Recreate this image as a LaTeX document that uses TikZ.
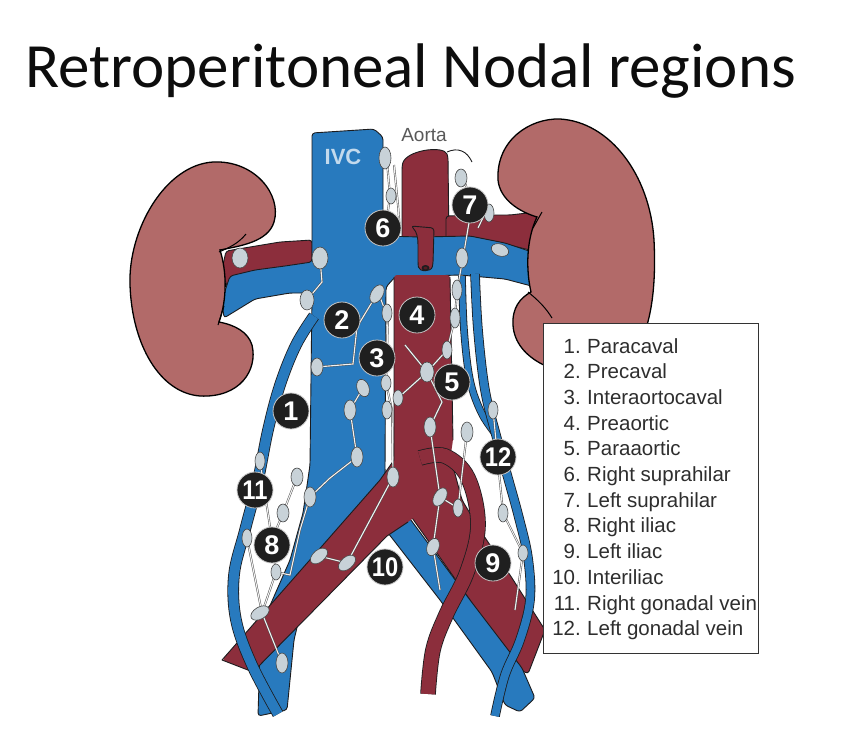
\documentclass[tikz,border=0pt]{standalone}
\usepackage{fontspec}
\setmainfont{Carlito}
\newfontfamily\arialf{Liberation Sans}
\usetikzlibrary{shapes.geometric}
\definecolor{vein}{RGB}{40,122,190}
\definecolor{art}{RGB}{140,46,60}
\definecolor{kid}{RGB}{178,106,105}
\definecolor{lnode}{RGB}{200,210,216}
\definecolor{outl}{RGB}{28,28,30}
\tikzset{
  bluev/.style={fill=vein, draw=outl, line width=0.9pt, line join=round, rounded corners=3pt},
  redv/.style={fill=art, draw=outl, line width=0.9pt, line join=round, rounded corners=3pt},
  kidneyshape/.style={fill=kid, draw=black, line width=1.3pt},
  lymphn/.style={fill=lnode, draw=gray!55!black, line width=0.6pt},
  chan/.style={draw=gray!60!black, double=gray!10, double distance=1.1pt, line width=0.45pt},
  tubeblue/.style={draw=outl, line width=0.8pt, double=vein, line cap=butt},
  tubered/.style={draw=outl, line width=0.8pt, double=art, double distance=14pt},
  numc/.style={circle, fill=black!88, draw=gray!45, line width=0.8pt, minimum size=36pt, inner sep=0pt, text=white, font=\arialf\bfseries\fontsize{27}{27}\selectfont},
  legnum/.style={anchor=base east, inner sep=0pt, font=\arialf\fontsize{20.5}{20.5}\selectfont, text=black!82},
  legtxt/.style={anchor=base west, inner sep=0pt, font=\arialf\fontsize{20.5}{20.5}\selectfont, text=black!82},
}
\begin{document}
\begin{tikzpicture}[x=1pt,y=-1pt]
\useasboundingbox (0,0) rectangle (852,729);
\fill[white] (0,0) rectangle (852,729);

% title
\node[anchor=base west, inner sep=0pt, font=\fontsize{63}{63}\selectfont, text=black!95] (title) at (25,87) {Retroperitoneal Nodal regions};

% ---- renal arteries and upper aorta (behind veins)
\path[redv] (312,240) -- (280,242) -- (250,247) -- (226,251) -- (222,270) -- (230,296) -- (250,276) -- (312,268) -- cycle;
\path[redv] (402,245) -- (402,167) .. controls (405,150) and (444,145) .. (448,157) -- (449,245) -- cycle;
\path[redv] (446,216) -- (480,215) -- (510,215) -- (536,212) -- (538,252) -- (505,244) -- (446,244) -- cycle;
\draw[outl, line width=0.9pt] (447,152) .. controls (458,147) and (467,151) .. (472,162);

% ---- IVC, renal veins, right iliac vein
\path[bluev] (312,133) -- (374,129) -- (383,137) -- (383,236) -- (420,237) -- (470,236) -- (505,243)
  -- (538,254) -- (539,288) -- (505,279) -- (460,275) -- (395,277) -- (386,287) -- (385,470)
  -- (388,520) -- (360,560) -- (300,615) -- (294,640) -- (287,710) -- (258,716) -- (260,650)
  -- (265,617) -- (290,560) -- (303,513) -- (310,465) -- (312,293) -- (290,293) -- (255,299)
  -- (224,318) -- (222,300) -- (230,276) -- (255,270) -- (285,266) -- (312,262) -- cycle;
\node[font=\arialf\bfseries\fontsize{22}{22}\selectfont, text=vein!28!white, inner sep=0pt] (ivclbl) at (343,157) {IVC};

% SMA stub in front of the left renal vein
\path[redv] (411,226) .. controls (417,232) and (418,238) .. (418,248) -- (418,264)
  .. controls (419,272) and (431,272) .. (433,264) -- (434,228) -- cycle;
\fill[outl] (425.5,268) ellipse [x radius=4pt, y radius=3pt];
\fill[art!60!black] (425.5,268) ellipse [x radius=2pt, y radius=1.4pt];

% ---- left iliac artery, left iliac vein
\path[redv] (420,465) -- (450,455) -- (462,500) -- (480,530) -- (512,578) -- (545,630) -- (528,674)
  -- (505,660) -- (470,600) -- (410,515) -- cycle;
\path[bluev] (378,520) -- (405,512) -- (470,600) -- (522,668) -- (535,698) -- (520,712) -- (505,705)
  -- (492,672) -- (440,600) -- cycle;

% ---- lower aorta and right iliac artery (in front)
\fill[art, rounded corners=3pt] (394,275) -- (450,275) -- (453,440) -- (447,480) -- (430,505) -- (408,522)
  -- (387,536) -- (253,672) -- (222,660) -- (380,480) -- (394,460) -- cycle;
\draw[outl, line width=0.9pt, line join=round] (394,277) -- (394,460) -- (380,480) -- (222,660) -- (253,672)
  -- (387,536) -- (408,522);
\draw[outl, line width=0.9pt] (450,277) -- (453,440);

% ---- gonadal veins
\draw[tubeblue, double distance=10pt] plot[smooth, tension=0.6] coordinates {(314,316) (296,345) (280,385) (268,430) (258,480) (245,530) (234,575) (236,620) (252,665) (278,714)};
\draw[tubeblue, double distance=6pt] plot[smooth, tension=0.6] coordinates {(462,276) (464,330) (470,380) (481,412) (494,432)};
\draw[tubeblue, double distance=8pt] plot[smooth, tension=0.6] coordinates {(475,274) (478,330) (485,390) (496,435) (508,478) (519,518) (528,558) (530,600) (520,640) (505,675) (495,716)};

% ---- inferior mesenteric artery
\draw[tubered] plot[smooth, tension=0.6] coordinates {(420,458) (445,456) (468,478) (478,525) (467,572) (446,615) (433,650) (428,694)};

% ---- lymphatic channels
\draw[chan] (386,150) -- (390,196) -- (384,240);
\draw[chan] (394,165) -- (398,205) -- (400,232);
\draw[chan] (378,292) -- (388,318) -- (386,383) -- (392,410) -- (393,477);
\draw[chan] (461,170) -- (472,205) -- (463,258) -- (457,290) -- (455,318) -- (447,350) -- (427,372);
\draw[chan] (489,205) -- (478,228);
\draw[chan] (427,372) -- (398,398);
\draw[chan] (427,372) -- (405,345);
\draw[chan] (427,372) -- (442,402) -- (430,427) -- (440,497) -- (433,547) -- (440,590);
\draw[chan] (320,258) -- (322,282) -- (307,300);
\draw[chan] (317,367) -- (353,364) -- (357,327) -- (377,294);
\draw[chan] (363,388) -- (350,410) -- (357,457) -- (330,478) -- (310,497);
\draw[chan] (297,477) -- (283,513) -- (272,540) -- (276,572) -- (262,613) -- (282,663);
\draw[chan] (310,497) -- (300,530) -- (290,575) -- (276,572);
\draw[chan] (319,556) -- (347,563) -- (393,477);
\draw[chan] (467,432) -- (458,508) -- (440,497);
\draw[chan] (493,410) -- (503,513) -- (523,553) -- (515,610);
\draw[chan] (247,538) -- (262,613);
\draw[chan] (260,461) -- (272,540);

% ---- lymph nodes
\foreach \x/\y/\a/\b/\r in {
 385/158/6/11/0, 391/196/5/8/0, 461/178/6/9/0, 489/213/5/9/0, 320/258/8/11/0, 240/258/8/10/0,
 307/300/7/10/0, 377/294/6/10/-30, 387/313/5/9/0, 462/258/6/10/0, 500/250/9/6/-20, 457/290/5/10/0,
 455/318/5/10/0, 427/372/7/10/0, 317/367/6/9/0, 447/350/5/9/0, 363/388/6/9/20, 386/383/5/8/0,
 398/398/5/8/0, 350/410/6/10/0, 357/457/6/10/0, 310/497/6/10/0, 297/477/6/9/0, 283/513/6/9/0,
 260/461/5/9/0, 247/538/5/9/0, 393/477/6/10/0, 387/410/5/9/0, 430/427/6/10/0, 467/432/6/10/0,
 440/497/6/10/-30, 458/508/5/9/0, 433/547/6/9/-20, 319/556/6/10/-50, 347/563/6/10/-50,
 260/613/6/10/-60, 282/663/6/10/0, 493/410/5/9/0, 503/513/5/9/0, 523/553/5/8/0, 276/572/5/8/0}
  {\draw[lymphn, rotate around={\r:(\x,\y)}] (\x,\y) ellipse [x radius=\a pt, y radius=\b pt];}

% ---- kidneys
\path[kidneyshape] (220,250) .. controls (240,246) and (268,242) .. (274,222)
  .. controls (282,195) and (255,160) .. (213,162)
  .. controls (165,165) and (128,230) .. (130,285)
  .. controls (132,345) and (160,393) .. (200,396)
  .. controls (240,398) and (258,370) .. (252,345)
  .. controls (248,332) and (235,325) .. (219,322)
  .. controls (227,300) and (227,272) .. (220,250) -- cycle;
\draw[black, line width=1pt] (246,234) .. controls (238,244) and (228,248) .. (219,252);
\draw[black, line width=1pt] (218,325) -- (224,306);
\path[kidneyshape] (537,217) .. controls (520,212) and (500,200) .. (498,180)
  .. controls (496,140) and (530,118) .. (560,119)
  .. controls (610,122) and (650,175) .. (654,240)
  .. controls (658,320) and (640,370) .. (600,375)
  .. controls (560,378) and (515,360) .. (513,325)
  .. controls (512,308) and (520,298) .. (531,292)
  .. controls (526,270) and (526,240) .. (537,217) -- cycle;
\draw[black, line width=1pt] (542,212) -- (533,228);
\draw[black, line width=1pt] (528,292) .. controls (538,300) and (546,308) .. (552,318);

% ---- labels
\node[font=\arialf\fontsize{19}{19}\selectfont, text=black!65, inner sep=0pt] (aortalbl) at (424,135) {Aorta};

% ---- numbered markers
\node[numc] (n1) at (291,411) {1};
\node[numc] (n2) at (342,320) {2};
\node[numc] (n3) at (377,358) {3};
\node[numc] (n4) at (417,315) {4};
\node[numc] (n5) at (452,382) {5};
\node[numc] (n6) at (383,228) {6};
\node[numc] (n7) at (470,205) {7};
\node[numc] (n8) at (272,545) {8};
\node[numc] (n9) at (493,563) {9};
\node[numc] (n10) at (385,567) {\scalebox{0.88}[1]{10}};
\node[numc] (n11) at (255,490) {\scalebox{0.88}[1]{11}};
\node[numc] (n12) at (498,457) {\scalebox{0.88}[1]{12}};

% ---- legend
\node[draw=black!80, line width=1pt, fill=white, minimum width=215pt, minimum height=330pt, anchor=north west, inner sep=0pt] (legend) at (543,323) {};
\foreach \i/\t in {1/Paracaval, 2/Precaval, 3/Interaortocaval, 4/Preaortic, 5/Paraaortic,
  6/Right suprahilar, 7/Left suprahilar, 8/Right iliac, 9/Left iliac, 10/Interiliac,
  11/Right gonadal vein, 12/Left gonadal vein}{
  \node[legnum] (ln\i) at (581,{353+25.7*(\i-1)}) {\i.};
  \node[legtxt] (lt\i) at (587,{353+25.7*(\i-1)}) {\t};
}
\end{tikzpicture}
\end{document}
